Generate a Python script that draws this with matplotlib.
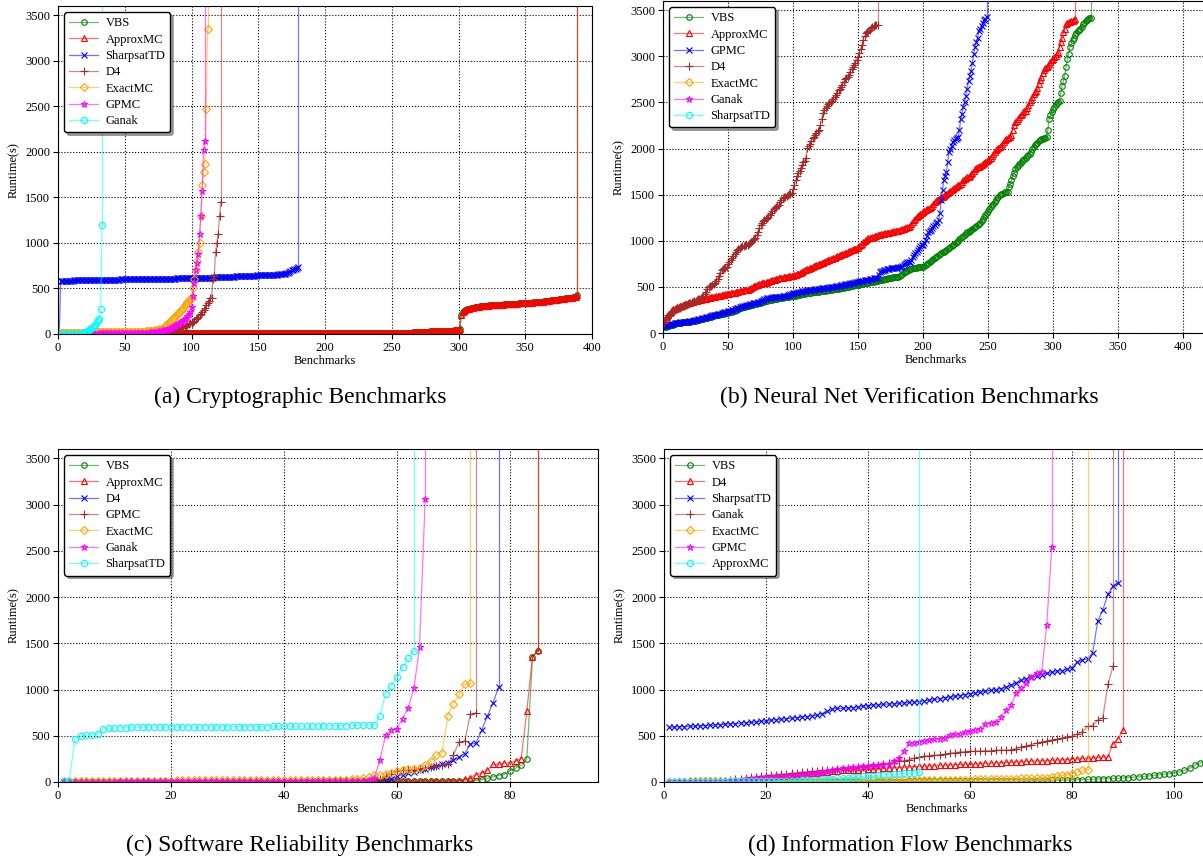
import matplotlib
matplotlib.use('Agg')
import matplotlib.pyplot as plt
from matplotlib.colors import to_rgba

plt.rcParams['font.family'] = ['Liberation Serif', 'DejaVu Serif']
plt.rcParams['font.size'] = 9

# ---------------- (a) Cryptographic ----------------
crypto_labels = ['VBS', 'ApproxMC', 'SharpsatTD', 'D4', 'ExactMC', 'GPMC', 'Ganak']
crypto_approxmc = [
    1,1,1,1,1,1,1,1,1,1,2,2,2,2,2,2,2,2,2,2,
    2,2,2,2,2,2,2,2,2,2,3,3,3,3,3,3,3,3,3,3,
    3,3,3,3,3,3,3,3,3,3,4,4,4,4,4,4,4,4,4,4,
    4,4,4,4,4,4,4,4,4,4,5,5,5,5,5,5,5,5,5,5,
    5,5,5,5,5,5,5,5,5,5,6,6,6,6,6,6,6,6,6,6,
    6,6,6,6,6,6,6,6,6,6,7,7,7,7,7,7,7,7,7,7,
    7,7,7,7,7,7,7,7,7,7,8,8,8,8,8,8,8,8,8,8,
    8,8,8,8,8,8,8,8,8,8,9,9,9,9,9,9,9,9,9,9,
    9,9,9,9,9,9,9,9,9,9,10,10,10,10,10,10,10,10,10,10,
    10,10,10,10,10,10,10,10,10,10,11,11,11,11,11,11,11,11,11,11,
    11,11,11,11,11,11,11,11,11,11,12,12,12,12,12,12,12,12,12,12,
    12,12,12,12,12,12,12,12,12,12,13,13,13,13,13,13,13,13,13,13,
    13,13,13,13,13,13,13,13,13,13,14,14,14,14,14,14,14,15,15,15,
    15,15,16,16,16,17,17,18,18,19,20,21,22,23,24,25,26,27,28,29,
    30,30,31,31,32,32,33,33,34,34,35,35,36,36,37,38,39,40,42,45,
    50,210,240,255,265,270,274,278,282,286,290,293,296,298,300,302,304,306,308,310,
    311,312,313,314,315,316,317,318,319,320,321,322,323,324,325,326,327,328,329,330,
    331,332,333,334,335,336,337,338,339,340,341,342,343,344,345,346,347,348,349,350,
    352,354,356,358,360,362,364,366,368,370,372,374,376,378,380,382,384,386,388,390,
    392,394,396,398,400,403,406,410,430]
crypto_vbs = list(crypto_approxmc)  # VBS lies under ApproxMC in this panel
crypto_sharpsattd = [
    10,580,582,583,584,585,585,586,586,587,587,588,588,589,589,590,590,590,591,591,
    591,592,592,592,593,593,593,594,594,594,595,595,595,595,596,596,596,596,597,597,
    597,597,598,598,598,598,599,599,599,599,600,600,600,600,600,601,601,601,601,601,
    602,602,602,602,603,603,603,603,604,604,604,604,605,605,605,605,606,606,606,607,
    607,607,608,608,608,609,609,609,610,610,610,611,611,611,612,612,612,613,613,613,
    614,614,614,615,615,615,616,616,617,617,618,618,619,619,620,620,621,621,622,622,
    623,623,624,625,626,627,627,628,629,630,630,631,632,633,634,634,635,636,637,637,
    638,639,640,640,641,641,642,642,643,643,644,644,645,645,646,646,647,647,648,648,
    649,650,651,652,654,656,658,660,662,664,666,670,680,690,700,705,710,715,720,730]
crypto_d4 = [
    1,1,1,1,1,1,1,1,1,1,1,1,1,1,1,2,2,2,2,2,
    2,2,2,2,2,2,2,2,2,2,2,2,2,2,3,3,3,3,3,3,
    3,3,3,3,3,4,4,4,4,4,4,4,5,5,5,5,5,6,6,6,
    6,7,7,7,8,8,9,9,10,10,11,12,13,14,15,16,18,20,22,24,
    26,28,30,33,36,40,44,48,52,56,60,65,70,76,82,90,98,106,117,126,
    136,148,160,175,190,208,225,245,265,290,317,340,360,390,400,600,640,900,1000,1100,
    1300,1450]
crypto_exactmc = [
    15,15,15,15,15,15,15,15,15,15,16,16,16,16,16,16,16,16,16,16,
    17,17,17,17,17,17,17,17,17,17,18,18,18,18,18,18,18,18,18,18,
    19,19,19,19,19,19,19,19,19,19,20,20,20,20,20,21,21,21,22,22,
    23,24,25,26,27,28,29,30,32,34,36,38,40,43,46,50,55,60,70,85,
    98,110,122,135,153,165,180,195,210,226,240,255,270,290,310,330,350,370,380,400,
    500,600,700,800,900,1000,1300,1630,1780,1870,2470,3345]
crypto_gpmc = [
    3,3,3,3,3,3,3,3,3,3,4,4,4,4,4,4,4,4,4,4,
    5,5,5,5,5,5,5,5,5,5,6,6,6,6,6,6,6,6,6,6,
    7,7,7,7,7,7,7,7,8,8,8,8,8,9,9,9,9,10,10,10,
    11,11,12,12,13,14,15,16,17,18,20,22,24,26,28,30,33,36,40,44,
    48,53,58,64,70,78,86,95,105,115,125,135,145,153,165,180,200,220,244,300,
    420,560,700,780,880,1100,1300,1570,2020,2120]
crypto_ganak = [2,2,2,2,2,2,3,3,3,3,3,3,4,4,4,4,5,8,12,18,25,35,45,55,65,75,
                85,100,130,150,160,270,1200]

# ---------------- (b) Neural Net Verification ----------------
nn_labels = ['VBS', 'ApproxMC', 'GPMC', 'D4', 'ExactMC', 'Ganak', 'SharpsatTD']
nn_vbs = [
    65,70,75,80,84,88,92,96,100,104, 106,108,110,112,114,116,117,118,120,122,
    124,126,128,131,134,138,142,146,150,154, 157,160,163,166,170,174,178,182,186,190,
    193,196,199,202,205,208,211,214,217,220, 223,227,232,237,242,248,254,260,266,272,
    277,281,285,289,293,297,301,305,309,312, 315,318,322,326,330,334,338,342,346,350,
    353,356,359,362,365,368,371,374,377,380, 382,384,386,388,390,392,394,396,398,400,
    403,406,409,412,415,418,421,424,427,430, 432,434,436,438,440,442,444,446,448,450,
    452,454,456,458,460,462,464,466,468,470, 472,474,476,478,480,483,486,489,492,495,
    498,501,504,507,510,513,516,519,521,523, 525,528,531,534,537,540,543,546,549,552,
    555,558,561,564,567,570,573,576,579,582, 585,588,591,594,597,600,603,606,609,611,
    612,620,630,640,650,660,668,676,684,690, 695,700,704,708,710,712,714,716,718,720,
    730,740,750,760,770,780,790,800,815,828, 837,846,855,864,873,882,891,900,910,918,
    930,942,954,966,978,990,1002,1014,1026,1040, 1055,1068,1080,1090,1100,1110,1120,1130,1140,1150,
    1160,1170,1180,1188,1210,1235,1260,1280,1296,1320, 1345,1370,1390,1404,1420,1440,1460,1480,1494,1505,
    1512,1518,1524,1528,1530,1580,1620,1660,1700,1740, 1775,1800,1815,1830,1845,1860,1872,1885,1900,1915,
    1930,1944,1965,1990,2015,2035,2052,2065,2078,2090, 2100,2106,2112,2118,2124,2200,2322,2360,2400,2430,
    2448,2470,2495,2510,2520,2600,2682,2730,2790,2880, 2970,3030,3096,3140,3180,3204,3230,3250,3270,3285,
    3294,3320,3348,3365,3380,3395,3405,3413,3418]
nn_approxmc = [
    120,150,180,200,216,230,245,255,262,270, 278,285,290,295,300,305,310,318,322,326,
    330,334,338,342,346,350,354,358,361,364, 367,370,373,376,379,382,385,388,391,394,
    397,400,403,406,409,412,415,418,421,424, 427,430,433,436,439,442,445,448,451,455,
    458,461,464,467,469,475,482,490,498,505, 512,518,524,530,534,538,540,541,545,550,
    555,560,565,570,575,580,585,590,593,596, 598,600,603,606,609,612,615,618,620,622,
    625,630,636,642,648,655,662,670,678,686, 692,698,704,710,716,722,728,734,740,746,
    752,758,764,770,776,782,788,794,800,806, 812,818,824,830,836,842,848,854,860,866,
    872,878,884,890,896,902,908,914,920,926, 940,955,970,985,1000,1011,1018,1025,1030,1035,
    1040,1045,1050,1055,1060,1065,1068,1071,1074,1077, 1080,1083,1086,1089,1092,1095,1098,1101,1104,1107,
    1110,1115,1120,1125,1130,1135,1140,1145,1150,1160, 1180,1200,1220,1240,1255,1265,1278,1290,1300,1310,
    1320,1330,1340,1345,1350,1365,1380,1400,1420,1435, 1445,1450,1458,1470,1480,1490,1500,1510,1520,1530,
    1540,1550,1560,1570,1580,1590,1600,1605,1620,1640, 1655,1670,1680,1690,1695,1700,1720,1740,1760,1780,
    1790,1795,1800,1810,1820,1830,1840,1850,1865,1879, 1890,1900,1920,1940,1960,1980,2000,2010,2016,2030,
    2050,2070,2090,2100,2110,2120,2124,2150,2200,2250, 2286,2300,2320,2340,2360,2380,2395,2405,2412,2440,
    2470,2500,2530,2560,2590,2610,2628,2660,2700,2740, 2780,2820,2850,2870,2880,2900,2920,2940,2960,2975,
    2988,3000,3020,3050,3096,3150,3204,3260,3300,3348, 3360,3370,3375,3380,3384,3395,3402]
nn_gpmc = [
    70,75,80,85,88,92,95,100,104,108, 110,112,114,116,118,120,121,122,124,126,
    128,130,133,136,140,144,148,152,156,160, 162,166,170,174,178,182,186,190,194,198,
    199,203,207,211,215,219,223,227,231,234, 235,240,245,250,256,262,268,274,280,285,
    289,293,297,301,305,309,313,317,321,323, 325,330,335,340,345,350,358,365,372,379,
    380,382,384,386,388,390,391,392,393,394, 395,396,397,400,405,410,415,420,425,430,
    433,436,439,442,445,448,451,454,457,460, 462,464,466,468,469,471,473,475,477,479,
    481,483,485,487,489,491,493,495,497,498, 500,502,505,508,511,514,517,520,523,526,
    529,532,535,538,541,544,547,550,553,556, 559,562,565,568,571,574,577,580,583,586,
    589,592,595,598,601,630,660,668,675,680, 685,690,695,698,700,702,704,706,708,710,
    712,715,720,730,740,750,760,765,770,774, 790,820,850,870,882,900,920,940,950,954,
    980,1010,1050,1090,1110,1116,1140,1160,1175,1188, 1200,1220,1300,1440,1550,1656,1700,1746,1850,1962,
    2000,2030,2070,2090,2100,2110,2124,2200,2322,2380, 2448,2500,2574,2650,2736,2790,2844,2930,3024,3100,
    3150,3200,3276,3300,3330,3360,3390,3410,3427]
nn_d4 = [
    110,140,170,190,200,215,230,240,250,260, 265,270,275,280,288,295,300,308,315,322,
    328,335,340,345,352,360,366,372,379,390, 405,425,450,480,500,505,515,525,535,541,
    560,590,620,650,680,690,700,705,720,745, 770,790,812,840,860,880,900,915,920,930,
    940,945,950,955,957,965,975,990,1005,1020, 1029,1060,1100,1140,1173,1190,1210,1225,1240,1245,
    1260,1280,1300,1320,1340,1360,1370,1380,1390,1420, 1440,1460,1470,1480,1490,1500,1505,1510,1515,1560,
    1610,1660,1700,1730,1760,1790,1820,1850,1870,1900, 2010,2030,2050,2080,2110,2130,2150,2170,2190,2204,
    2250,2320,2384,2420,2440,2460,2480,2492,2500,2520, 2540,2560,2580,2600,2630,2650,2665,2690,2720,2750,
    2770,2780,2800,2830,2860,2880,2906,2930,2960,2996, 3040,3080,3122,3180,3220,3248,3260,3275,3290,3302,
    3315,3325,3338,3340,3345]
nn_exactmc = []
nn_ganak = []
nn_sharpsattd = []

# ---------------- (c) Software Reliability ----------------
sw_labels = ['VBS', 'ApproxMC', 'D4', 'GPMC', 'ExactMC', 'Ganak', 'SharpsatTD']
sw_vbs = [
    1,1,1,1,1,1,1,1,2,2,2,2,2,2,2,2,2,2,3,3,
    3,3,3,3,3,3,3,3,3,4,4,4,4,4,4,4,4,4,5,5,
    5,5,5,5,5,5,5,5,6,6,6,6,6,6,6,7,7,7,7,7,
    8,8,8,9,9,9,10,10,11,12,12,13,14,16,
    25,40,55,70,80,120,150,180,250,1350,1420]
sw_approxmc = [
    4,4,4,4,4,4,4,4,4,4,5,5,5,5,5,5,5,5,5,5,
    5,5,5,5,5,6,6,6,6,6,6,6,6,6,6,6,6,6,6,6,
    7,7,7,7,7,7,7,7,7,7,8,8,8,8,8,8,8,8,9,9,
    9,9,9,10,10,10,11,11,12,13,15,
    29,47,79,97,126,191,191,206,206,227,253,769,1354,1426]
sw_d4 = [
    3,3,3,3,3,3,3,3,3,3,3,3,3,3,3,4,4,4,4,4,
    4,4,4,4,4,4,4,4,4,4,5,5,5,5,5,5,5,5,5,5,
    5,5,5,6,6,6,6,6,6,6,7,7,7,8,9,
    10,14,20,35,60,80,95,110,125,140,160,175,190,205,235,270,307,408,422,560,711,855,1022]
sw_gpmc = [
    2,2,2,2,2,2,2,2,2,2,3,3,3,3,3,3,3,3,3,3,
    3,3,3,3,3,4,4,4,4,4,4,4,4,4,4,4,4,5,5,5,
    5,5,5,5,5,6,6,6,6,6,6,7,7,7,8,
    12,30,60,90,120,125,130,135,140,150,160,170,180,200,289,433,440,733,747]
sw_exactmc = [
    15,15,15,15,15,15,15,15,15,15,16,16,16,16,16,16,16,16,16,16,
    17,17,17,17,17,17,17,17,17,17,18,18,18,18,18,18,18,18,18,18,
    19,19,19,19,19,20,20,21,22,24,27,30,35,42,54,
    72,80,90,97,115,126,137,144,155,180,227,289,314,711,848,949,1058,1065]
sw_ganak = [
    5,5,5,5,5,5,5,5,5,5,6,6,6,6,6,6,6,6,6,6,
    7,7,7,7,7,7,7,7,7,7,8,8,8,8,8,8,8,8,8,8,
    9,9,9,9,9,10,10,10,11,11,12,13,14,16,20,
    40,242,505,560,578,686,801,1011,1455,3058]
sw_sharpsattd = [
    10,10,470,500,505,510,515,570,580,585, 588,589,590,591,592,592,593,593,594,594,
    595,595,596,596,596,597,597,597,598,598, 598,599,599,599,600,600,600,601,601,602,
    602,603,603,604,604,605,606,607,608,609, 610,612,614,616,618,620,
    718,950,1040,1130,1245,1336,1415]

# ---------------- (d) Information Flow ----------------
if_labels = ['VBS', 'D4', 'SharpsatTD', 'Ganak', 'ExactMC', 'GPMC', 'ApproxMC']
if_vbs = [
    1,1,1,1,1,1,1,1,1,1,2,2,2,2,2,2,2,2,2,2,
    2,2,3,3,3,3,3,3,3,3,3,3,4,4,4,4,4,4,4,4,
    5,5,5,5,5,5,5,6,6,6,6,6,6,7,7,7,7,7,8,8,
    8,9,9,9,10,10,11,11,12,12,13,13,14,15,16,17,18,19,20,22,
    24,26,28,30,32,34,36,38,40,44,48,52,56,61,66,72,78,84,90,100,
    110,126,150,180,206,215,230]
if_d4 = [
    5,5,5,6,6,6,7,7,8,8,9,10, 15,20,25,30,35,40,45,50,
    55,60,65,70,75,80,85,90,95,100, 105,110,115,120,125,128,130,132,135,138,
    140,143,146,150,153,156,160,163,166,170, 172,175,178,180,182,185,188,190,192,195,
    197,200,202,205,207,210,212,215,217,220, 222,225,228,230,232,235,238,240,243,246,
    250,255,258,262,265,268,271, 415,469,567]
if_sharpsattd = [
    590,595,598,600,602,605,607,610,612,615, 620,625,628,632,636,640,645,650,655,660,
    668,675,680,685,690,695,700,708,715,722, 740,765,790,795,798,800,805,812,820,825,
    830,835,838,842,846,850,855,860,865,870, 878,885,892,900,910,918,925,935,945,955,
    962,970,980,990,1000,1010,1025,1045,1070,1100, 1115,1130,1145,1160,1175,1185,1195,1205,1218,1235,
    1300,1318,1330,1400,1740,1860,2030,2120,2155]
if_ganak = [
    3,3,4,4,5,5,6,6,7,8,10,12, 20,28,36,44,52,58,64,70,
    75,80,85,90,95,100,105,110,115,120, 125,130,135,140,145,150,155,160,165,170,
    178,186,194,202,210,225,232,240,255,270, 280,285,289,295,300,310,318,325,328,330,
    333,336,338,340,342,343,345,350,360,379, 390,405,420,433,445,455,462,475,485,495,
    520,541,603,610,668,697,1058,1253]
if_exactmc = [
    5,5,5,5,6,6,6,6,7,7,7,7,8,8,8,8,9,9,9,9,
    10,10,10,11,11,11,12,12,12,13,13,13,14,14,14,15,15,16,16,17,
    17,18,18,19,19,20,20,21,21,22,22,23,23,24,24,25,25,26,26,27,
    28,29,30,31,32,33,34,35,36,38,40,42,44,46,48,55,65,72,80,90,
    108,126,134]
if_gpmc = [
    5,5,6,6,7,7,8,8,9,9,10,12, 15,20,25,30,35,40,45,50,
    55,60,65,70,75,80,85,90,95,100, 110,120,130,140,150,155,160,165,170,175,
    180,185,190,200,230,260, 330,420,425,433,
    440,450,460,470,476,512,515,523,540,552, 565,578,632,640,650,704,776,830,957,1011,
    1065,1137,1173,1184,1697,2538]
if_approxmc = [
    3,3,3,3,4,4,4,4,5,5,5,5,6,6,6,7,7,7,8,8,9,9,10,11,12,
    15,18,21,24,27,30,33,36,40,44, 48,52,56,60,64,68,72,76,80,84,
    88,92,96,102,108]

# marker style by legend position
colors = ['green', 'red', 'blue', 'brown', 'orange', 'magenta', 'cyan']
markers = ['o', '^', 'x', '+', 'D', '*', 'o']
msizes = [4, 4.5, 4.5, 5.5, 4, 5, 4.5]


def draw_panel(ax, labels, series, xmax, xticks):
    for i, (name, vals) in enumerate(zip(labels, series)):
        c = colors[i]
        lc = to_rgba(c, 0.55)
        n = len(vals)
        x = list(range(1, n + 1))
        ax.plot(x, vals, color=lc, lw=0.9, marker=markers[i], ms=msizes[i],
                mec=c, mfc='none', mew=0.8, label=name)
        if n:
            # timeout: line goes straight up after the last solved instance
            ax.plot([n, n], [vals[-1], 1e5], color=lc, lw=0.9)
    ax.set_xlim(0, xmax)
    ax.set_ylim(0, 3600)
    ax.set_xticks(xticks)
    ax.set_yticks(range(0, 3501, 500))
    ax.grid(True, ls=':', color='black', lw=0.8)
    ax.set_axisbelow(True)
    ax.tick_params(labelsize=9, pad=2)
    ax.set_xlabel('Benchmarks', fontsize=9, labelpad=1)
    ax.set_ylabel('Runtime(s)', fontsize=9)
    leg = ax.legend(loc='upper left', fancybox=True, shadow=True, framealpha=1,
                    edgecolor='black', fontsize=9, labelspacing=0.35,
                    handlelength=2.3, handletextpad=0.6, borderpad=0.4)
    leg.get_frame().set_linewidth(1.0)


W, H = 1203, 860
fig = plt.figure(figsize=(W / 100, H / 100), dpi=100)

ax_a = fig.add_axes([58 / W, 1 - 334 / H, 534 / W, 328 / H])
ax_b = fig.add_axes([663 / W, 1 - 333 / H, 546 / W, 332 / H])
ax_c = fig.add_axes([58 / W, 1 - 782 / H, 540 / W, 333 / H])
ax_d = fig.add_axes([664 / W, 1 - 782 / H, 546 / W, 333 / H])

draw_panel(ax_a, crypto_labels,
           [crypto_vbs, crypto_approxmc, crypto_sharpsattd, crypto_d4,
            crypto_exactmc, crypto_gpmc, crypto_ganak],
           400, range(0, 401, 50))
draw_panel(ax_b, nn_labels,
           [nn_vbs, nn_approxmc, nn_gpmc, nn_d4, nn_exactmc, nn_ganak, nn_sharpsattd],
           420, range(0, 401, 50))
draw_panel(ax_c, sw_labels,
           [sw_vbs, sw_approxmc, sw_d4, sw_gpmc, sw_exactmc, sw_ganak, sw_sharpsattd],
           95.6, range(0, 81, 20))
draw_panel(ax_d, if_labels,
           [if_vbs, if_d4, if_sharpsattd, if_ganak, if_exactmc, if_gpmc, if_approxmc],
           107, range(0, 101, 20))

fig.text(300 / W, 1 - 397 / H, '(a) Cryptographic Benchmarks', ha='center', va='center', fontsize=17)
fig.text(909 / W, 1 - 397 / H, '(b) Neural Net Verification Benchmarks', ha='center', va='center', fontsize=17)
fig.text(300 / W, 1 - 845 / H, '(c) Software Reliability Benchmarks', ha='center', va='center', fontsize=17)
fig.text(910 / W, 1 - 845 / H, '(d) Information Flow Benchmarks', ha='center', va='center', fontsize=17)

fig.savefig('out.png', dpi=100)
